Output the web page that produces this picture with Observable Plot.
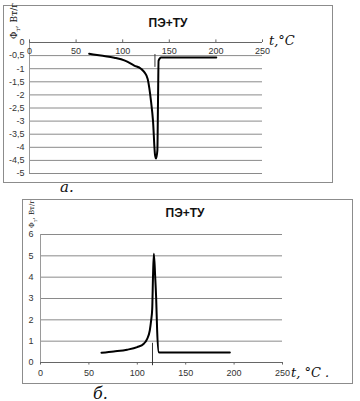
<!DOCTYPE html>
<html>
<head>
<meta charset="utf-8">
<script src="https://cdn.jsdelivr.net/npm/d3@7"></script>
<script src="https://cdn.jsdelivr.net/npm/@observablehq/plot@0.6"></script>
<style>
  html, body { margin: 0; padding: 0; background: #fff; }
  #wrap { position: relative; width: 360px; height: 401px; overflow: hidden; font-family: "Liberation Sans", Arial, sans-serif; }
  .abs { position: absolute; }
  .frame { position: absolute; border: 1px solid #8c8c8c; box-sizing: border-box; }
  .title { position: absolute; font-weight: bold; font-size: 12px; color: #111; transform: translate(-50%, -50%); white-space: nowrap; }
  .hand { position: absolute; font-family: "DejaVu Serif", serif; font-style: italic; color: #111; white-space: nowrap; transform: translate(0, -50%); }
  .ylab { position: absolute; font-family: "DejaVu Serif", serif; font-size: 9px; color: #111; white-space: nowrap; transform: translate(-50%, -50%) rotate(-90deg); }
</style>
</head>
<body>
<div id="wrap">
  <div class="frame" style="left:3px;top:5px;width:330px;height:178px;"></div>
  <div class="frame" style="left:22px;top:199px;width:331px;height:185px;"></div>
  <div id="p1" class="abs" style="left:0;top:0;"></div>
  <div id="p2" class="abs" style="left:0;top:195px;"></div>
  <div class="title" style="left:168px;top:23px;">ПЭ+ТУ</div>
  <div class="title" style="left:185px;top:213px;">ПЭ+ТУ</div>
  <div class="ylab" style="left:15px;top:21px;">Φ<sub style="font-size:6px">т</sub>, Вт/г</div>
  <div class="ylab" style="left:33px;top:214px;font-size:7px;">Φ<sub style="font-size:5px">т</sub>, Вт/г</div>
  <div class="hand" style="left:269px;top:40px;font-size:13px;">t,°C</div>
  <div class="hand" style="left:291px;top:372px;font-size:13px;">t, °C .</div>
  <div class="hand" style="left:60px;top:187px;font-size:15px;">а.</div>
  <div class="hand" style="left:93px;top:393px;font-size:16px;">б.</div>
</div>
<script>
// ---- data ----
const xTicks = [0, 50, 100, 150, 200, 250];

// chart а (top)
const topYTicks = [0, -0.5, -1, -1.5, -2, -2.5, -3, -3.5, -4, -4.5, -5];
const topGrid = [-0.5, -1, -1.5, -2, -2.5, -3, -3.5, -4, -4.5, -5];
const topT = [64, 76.5, 91, 102.4, 112.4, 119.6, 123.2, 126.8, 128.6, 130.4, 132.5, 134.7, 135.8, 137.2, 137.9, 138.5, 141.2, 160, 180, 200.4];
const topPhi = [-0.43, -0.5, -0.58, -0.69, -0.88, -1.0, -1.13, -1.39, -1.75, -2.25, -2.98, -4.3, -4.43, -4.12, -2.2, -0.69, -0.57, -0.57, -0.57, -0.57];
const topMarkT = [134.6];
const topMarkY1 = [-0.46];
const topMarkY2 = [-0.95];

// chart б (bottom)
const botYTicks = [0, 1, 2, 3, 4, 5, 6];
const botGrid = [1, 2, 3, 4, 5, 6];
const botT = [63, 75.7, 89.5, 99.9, 106.7, 110.2, 112.9, 114.3, 115.4, 116.2, 117.1, 118.5, 119.5, 120.5, 122.2, 124, 150, 175, 195.6];
const botPhi = [0.46, 0.52, 0.6, 0.72, 0.88, 1.11, 1.5, 1.97, 2.5, 4.0, 5.1, 4.0, 3.0, 1.5, 0.48, 0.47, 0.47, 0.47, 0.47];
const botMarkT = [115.7];
const botMarkY1 = [0.9];
const botMarkY2 = [-0.15];

const fmt = d => String(d).replace(".", ",");
const style = { fontFamily: "'Liberation Sans', Arial, sans-serif", fontSize: "9px", color: "#222", background: "transparent", overflow: "visible" };

const topRows = topT.map((t, i) => ({ t, v: topPhi[i] }));
const botRows = botT.map((t, i) => ({ t, v: botPhi[i] }));

const p1 = Plot.plot({
  width: 340, height: 190,
  marginLeft: 29, marginRight: 78, marginTop: 42, marginBottom: 17,
  x: { domain: [0, 250], axis: null },
  y: { domain: [-5, 0], axis: null },
  style,
  marks: [
    Plot.ruleY(topGrid, { stroke: "#8a8a8a", strokeWidth: 1 }),
    Plot.ruleX([0], { y1: -5, y2: 0, stroke: "#9a9a9a" }),
    Plot.ruleY([0], { stroke: "#666" }),
    Plot.ruleX(xTicks, { x: d => d, y1: 0, y2: 0.1, stroke: "#666" }),
    Plot.text(xTicks, { x: d => d, y: 0, dy: 9, text: d => String(d), fill: "#333" }),
    Plot.text(topYTicks, { x: 0, y: d => d, dx: -5, textAnchor: "end", text: fmt, fill: "#333" }),
    Plot.ruleX(topMarkT, { x: d => d, y1: (d, i) => topMarkY1[i], y2: (d, i) => topMarkY2[i], stroke: "#333", strokeWidth: 1 }),
    Plot.line(topRows, { x: "t", y: "v", stroke: "#000", strokeWidth: 2, curve: "monotone-x" })
  ]
});
document.getElementById("p1").appendChild(p1);

const p2 = Plot.plot({
  width: 360, height: 195,
  marginLeft: 40, marginRight: 78, marginTop: 39, marginBottom: 28,
  x: { domain: [0, 250], axis: null },
  y: { domain: [0, 6], axis: null },
  style,
  marks: [
    Plot.ruleY(botGrid, { stroke: "#8a8a8a", strokeWidth: 1 }),
    Plot.ruleX([0], { y1: 0, y2: 6, stroke: "#9a9a9a" }),
    Plot.ruleY([0], { stroke: "#666" }),
    Plot.ruleX(xTicks, { x: d => d, y1: 0, y2: -0.12, stroke: "#666" }),
    Plot.text(xTicks, { x: d => d, y: 0, dy: 11, text: d => String(d), fill: "#333" }),
    Plot.text(botYTicks, { x: 0, y: d => d, dx: -7, textAnchor: "end", text: fmt, fill: "#333" }),
    Plot.ruleX(botMarkT, { x: d => d, y1: (d, i) => botMarkY1[i], y2: (d, i) => botMarkY2[i], stroke: "#333", strokeWidth: 1 }),
    Plot.line(botRows, { x: "t", y: "v", stroke: "#000", strokeWidth: 2, curve: "monotone-x" })
  ]
});
document.getElementById("p2").appendChild(p2);
</script>
</body>
</html>
